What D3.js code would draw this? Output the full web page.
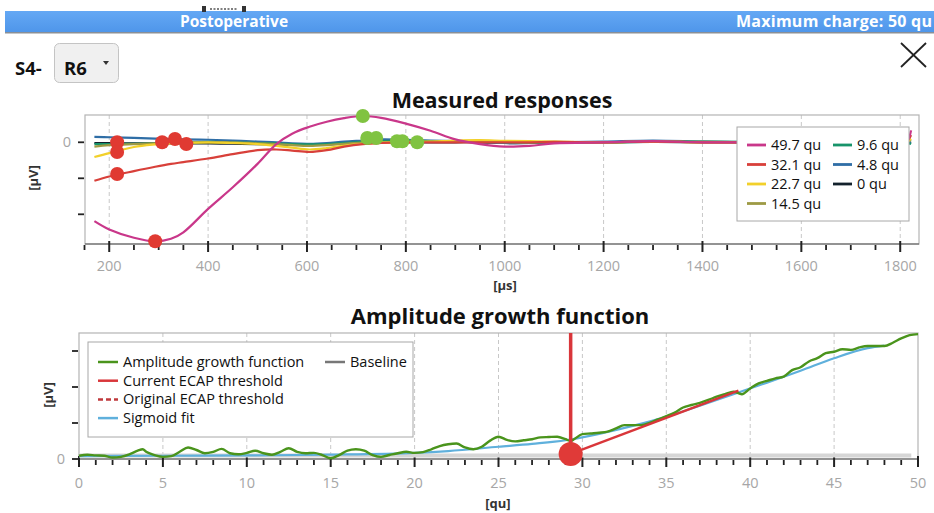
<!DOCTYPE html>
<html><head><meta charset="utf-8">
<script src="https://cdn.jsdelivr.net/npm/d3@7"></script>
<style>body{margin:0;background:#fff}svg{display:block;font-family:"Open Sans",sans-serif}</style>
</head><body><svg id="c" width="934" height="513"></svg>
<script>
// ---------- data: measured responses ----------
const respLabels = ["49.7 qu","32.1 qu","22.7 qu","14.5 qu","9.6 qu","4.8 qu","0 qu"];
const respColors = ["#c9378a","#d8403a","#f2d02a","#9d9a45","#17946a","#2f6ea6","#13212c"];
const respX = [170,200,250,293,325,350,400,450,500,538,570,605,640,675,713,750,800,850,900,950,1000,1050,1100,1200,1300,1400,1500,1600,1700,1810,1822];
const resp497 = [-2.19,-2.42,-2.65,-2.75,-2.68,-2.5,-1.85,-1.25,-0.6,-0.05,0.24,0.43,0.57,0.67,0.73,0.68,0.52,0.32,0.08,-0.05,-0.12,-0.1,-0.03,0,0.03,0,0,0,0,0,0.33];
const resp321 = [-1.07,-0.95,-0.8,-0.68,-0.6,-0.55,-0.45,-0.33,-0.22,-0.2,-0.23,-0.27,-0.22,-0.12,-0.05,-0.02,0,0,0,0,0,0,0.01,0,0.02,0,0,0,0,0,0.2];
const resp227 = [-0.41,-0.3,-0.13,-0.06,-0.03,-0.02,0,-0.02,-0.05,-0.1,-0.15,-0.2,-0.16,-0.09,-0.04,-0.01,0,0.02,0.05,0.06,0.04,0.03,0.02,0,0.02,0,0,0,0,0,0.1];
const resp145 = [-0.12,-0.08,-0.05,-0.03,-0.02,-0.01,0,0,-0.03,-0.05,-0.08,-0.1,-0.08,-0.04,-0.01,0,0.02,0.02,0.02,0.02,0.01,0,0.01,0,0.02,0.01,0,0,0,0,0.06];
const resp96  = [-0.05,-0.05,-0.04,-0.03,-0.02,-0.01,0.01,0,-0.02,-0.03,-0.05,-0.06,-0.05,-0.02,0.01,0.03,0.04,0.03,0.02,0.01,0,-0.01,0,-0.01,0.02,0.02,0.01,0,0,0,-0.05];
const resp48  = [0.15,0.14,0.12,0.1,0.09,0.08,0.07,0.05,0.02,0,-0.03,-0.04,-0.02,0.02,0.05,0.08,0.07,0.05,0.03,0.01,-0.02,-0.02,0,0.02,0.05,0.02,0,0,0,0,0];
const resp0   = [-0.02,-0.02,-0.03,-0.03,-0.03,-0.03,-0.03,-0.04,-0.05,-0.06,-0.07,-0.07,-0.06,-0.04,-0.02,0,0,0,0,0,-0.02,-0.02,-0.01,0,0.01,0,0,0,0,0,-0.02];
const respSeries = [resp497,resp321,resp227,resp145,resp96,resp48,resp0];
const negPeakX = [216,216,216,293,307,333,356];
const negPeakY = [0.0,-0.27,-0.88,-2.75,0.0,0.09,-0.05];
const posPeakX = [713,722,740,782,793,823];
const posPeakY = [0.73,0.12,0.12,0.03,0.03,0.0];
const respXTicks = [200,400,600,800,1000,1200,1400,1600,1800];
const respYTicks = [0,-1,-2];

// ---------- data: amplitude growth function ----------
const agfX = [0,0.5,1,1.5,2,2.5,3,3.5,3.8,4,4.5,5,5.5,6,6.5,7,7.5,8,8.5,9,9.5,10,10.5,11,11.5,12,12.5,13,13.5,14,14.5,15,15.5,16,16.5,17,17.5,18,18.5,19,19.5,20,20.5,21,21.5,22,22.5,23,23.5,24,24.5,25,25.5,26,26.5,27,27.5,28,28.5,29,29.3,29.5,30,30.5,31,31.5,32,32.5,33,33.5,34,34.5,35,35.5,36,36.5,37,37.5,38,38.5,39,39.5,40,40.5,41,41.5,42,42.5,43,43.5,44,44.5,45,45.5,46,46.5,47,47.5,48,48.5,49,49.5,50];
const agfY = [0.09,0.12,0.1,0.09,0.04,0.06,0.13,0.23,0.27,0.2,0.11,0.06,0.08,0.2,0.32,0.25,0.16,0.2,0.28,0.16,0.13,0.17,0.23,0.16,0.12,0.2,0.3,0.2,0.16,0.17,0.11,0.02,0.11,0.23,0.27,0.23,0.11,0.06,0.11,0.16,0.2,0.17,0.19,0.27,0.36,0.41,0.43,0.32,0.27,0.34,0.51,0.62,0.53,0.49,0.52,0.55,0.6,0.61,0.62,0.55,0.5,0.55,0.69,0.71,0.73,0.76,0.85,0.94,0.94,0.94,1.0,1.1,1.19,1.29,1.43,1.5,1.56,1.64,1.73,1.8,1.87,1.8,1.96,2.1,2.17,2.24,2.29,2.47,2.55,2.71,2.8,2.94,2.98,3.05,3.03,3.1,3.14,3.14,3.14,3.23,3.35,3.44,3.47];
const sigX = [0,5,10,15,20,22,25,27,29,31,33,35,37,39,41,43,45,47,48];
const sigY = [0.08,0.09,0.1,0.12,0.17,0.22,0.34,0.42,0.52,0.7,0.92,1.17,1.48,1.8,2.12,2.45,2.8,3.08,3.15];
const thresholdQ = 29.3, thresholdV = 0.14;
const slopeEndQ = 39.3, slopeEndV = 1.9;
const agfXTicks = [0,5,10,15,20,25,30,35,40,45,50];
const agfYTicks = [0,1,2,3];
const agfLegend = ["Amplitude growth function","Current ECAP threshold","Original ECAP threshold","Sigmoid fit","Baseline"];

const svg = d3.select("#c");

// ---------- header ----------
const grad = svg.append("defs").append("linearGradient").attr("id","hb").attr("x1",0).attr("x2",0).attr("y1",0).attr("y2",1);
grad.append("stop").attr("offset",0).attr("stop-color","#64a8f4");
grad.append("stop").attr("offset",1).attr("stop-color","#4f96ea");
svg.append("rect").attr("x",5).attr("y",11).attr("width",929).attr("height",21).attr("fill","url(#hb)");
svg.append("rect").attr("x",5).attr("y",32).attr("width",929).attr("height",1.5).attr("fill","#8a8f96");
svg.append("rect").attr("x",202).attr("y",6).attr("width",4).attr("height",6).attr("fill","#333");
svg.append("rect").attr("x",242).attr("y",6).attr("width",4).attr("height",6).attr("fill","#333");
svg.append("line").attr("x1",210).attr("x2",238).attr("y1",9).attr("y2",9).attr("stroke","#555").attr("stroke-width",1.5).attr("stroke-dasharray","2,1.5");
svg.append("text").attr("x",234).attr("y",27).attr("text-anchor","middle").attr("fill","#fff").attr("font-weight","bold").attr("font-size",15.5).text("Postoperative");
svg.append("text").attr("x",932).attr("y",27).attr("text-anchor","end").attr("fill","#fff").attr("font-weight","bold").attr("font-size",16).attr("textLength",196).text("Maximum charge: 50 qu");

svg.append("text").attr("x",15).attr("y",75).attr("font-weight","bold").attr("font-size",18.5).attr("fill","#111").text("S4-");
svg.append("rect").attr("x",54.5).attr("y",43.5).attr("width",64).attr("height",39).attr("rx",5).attr("fill","#f0f0f0").attr("stroke","#c4c4c4");
svg.append("text").attr("x",64).attr("y",75).attr("font-weight","bold").attr("font-size",18.5).attr("fill","#111").text("R6");
svg.append("path").attr("d","M103,61 L109,61 L106,65 Z").attr("fill","#333");
svg.append("line").attr("x1",901).attr("y1",43).attr("x2",926).attr("y2",67).attr("stroke","#222").attr("stroke-width",1.8);
svg.append("line").attr("x1",926).attr("y1",43).attr("x2",901).attr("y2",67).attr("stroke","#222").attr("stroke-width",1.8);

// ---------- helper to draw axes frame ----------
function frame(g, x, y, L, R, T, B, xMinor, xMajor, yTicks, labOff) {
  g.selectAll(".vg").data(xMajor.filter(v => x(v) > L + 2 && x(v) < R - 2)).join("line")
    .attr("x1", d => x(d)).attr("x2", d => x(d)).attr("y1", T).attr("y2", B)
    .attr("stroke", "#c8c8c8").attr("stroke-dasharray", "4,3");
  g.append("rect").attr("x", L).attr("y", T).attr("width", R - L).attr("height", B - T)
    .attr("fill", "none").attr("stroke", "#b4b4b4").attr("stroke-width", 1.2);
  g.append("line").attr("x1", L).attr("x2", R).attr("y1", B).attr("y2", B).attr("stroke", "#555");
  g.selectAll(".mt").data(xMinor).join("line")
    .attr("x1", d => x(d)).attr("x2", d => x(d)).attr("y1", B + 1).attr("y2", B + 6)
    .attr("stroke", "#222").attr("stroke-width", 1.8);
  g.selectAll(".Mt").data(xMajor).join("line")
    .attr("x1", d => x(d)).attr("x2", d => x(d)).attr("y1", B - 3).attr("y2", B + 8)
    .attr("stroke", "#222").attr("stroke-width", 2);
  g.selectAll(".xl").data(xMajor).join("text")
    .attr("x", d => x(d)).attr("y", B + labOff).attr("text-anchor", "middle")
    .attr("font-size", 14.5).attr("fill", "#a6a6a6").text(d => d);
  g.selectAll(".yt").data(yTicks).join("line")
    .attr("x1", L - 7).attr("x2", L - 1).attr("y1", d => y(d)).attr("y2", d => y(d))
    .attr("stroke", "#222").attr("stroke-width", 1.8);
  g.append("text").attr("x", L - 14).attr("y", y(0) + 5).attr("text-anchor", "end")
    .attr("font-size", 14.5).attr("fill", "#a6a6a6").text("0");
}

// ---------- top chart ----------
{
  const L = 85, R = 919, T = 115, B = 244;
  const x = d3.scaleLinear().domain([151, 1838]).range([L, R]);
  const y = d3.scaleLinear().domain([-2.825, 0.758]).range([B, T]);
  const g = svg.append("g");
  const minor = d3.range(150, 1840, 50).filter(v => v % 200 !== 0);
  frame(g, x, y, L, R, T, B, minor, respXTicks, respYTicks, 27);
  svg.append("text").attr("x", 502).attr("y", 108).attr("text-anchor", "middle")
    .attr("font-weight", "bold").attr("font-size", 21.5).attr("fill", "#111").text("Measured responses");
  svg.append("text").attr("x", 505).attr("y", 290).attr("text-anchor", "middle")
    .attr("font-weight", "bold").attr("font-size", 13).attr("fill", "#333").text("[µs]");
  svg.append("text").attr("transform", "translate(38,178) rotate(-90)").attr("text-anchor", "middle")
    .attr("font-weight", "bold").attr("font-size", 13).attr("fill", "#333").text("[µV]");
  const line = d3.line().x((d, i) => x(respX[i])).y(d => y(d)).curve(d3.curveCatmullRom.alpha(0.5));
  const order = [6, 5, 4, 3, 2, 1, 0];
  g.selectAll(".rl").data(order).join("path")
    .attr("d", i => line(respSeries[i])).attr("fill", "none")
    .attr("stroke", i => respColors[i]).attr("stroke-width", 2.2);
  g.selectAll(".np").data(negPeakX).join("circle")
    .attr("cx", d => x(d)).attr("cy", (d, i) => y(negPeakY[i])).attr("r", 7).attr("fill", "#e03a32");
  g.selectAll(".pp").data(posPeakX).join("circle")
    .attr("cx", d => x(d)).attr("cy", (d, i) => y(posPeakY[i])).attr("r", 7).attr("fill", "#80c341");
  const lg = g.append("g");
  lg.append("rect").attr("x", 737).attr("y", 127).attr("width", 172).attr("height", 94)
    .attr("fill", "#fff").attr("stroke", "#a8a8a8");
  respLabels.forEach((t, i) => {
    const col = i < 4 ? 0 : 1, row = i < 4 ? i : i - 4;
    const lx = 747 + col * 86, ly = 145 + row * 19.5;
    lg.append("line").attr("x1", lx).attr("x2", lx + 19).attr("y1", ly).attr("y2", ly)
      .attr("stroke", respColors[i]).attr("stroke-width", 2.8);
    lg.append("text").attr("x", lx + 24).attr("y", ly + 5).attr("font-size", 14.5).attr("fill", "#111").text(t);
  });
}

// ---------- bottom chart ----------
{
  const L = 79, R = 918, T = 333, B = 459;
  const x = d3.scaleLinear().domain([0, 50]).range([L, R]);
  const y = d3.scaleLinear().domain([0, 3.5]).range([B, T]);
  const g = svg.append("g");
  const minor = d3.range(0, 51, 1).filter(v => v % 5 !== 0);
  frame(g, x, y, L, R, T, B, minor, agfXTicks, agfYTicks, 29);
  svg.append("text").attr("x", 500).attr("y", 324).attr("text-anchor", "middle")
    .attr("font-weight", "bold").attr("font-size", 22).attr("fill", "#111").text("Amplitude growth function");
  svg.append("text").attr("x", 498).attr("y", 508).attr("text-anchor", "middle")
    .attr("font-weight", "bold").attr("font-size", 13).attr("fill", "#333").text("[qu]");
  svg.append("text").attr("transform", "translate(53,395) rotate(-90)").attr("text-anchor", "middle")
    .attr("font-weight", "bold").attr("font-size", 13).attr("fill", "#333").text("[µV]");
  g.append("line").attr("x1", x(0)).attr("x2", x(49.6)).attr("y1", y(0.1)).attr("y2", y(0.1))
    .attr("stroke", "#d6d6d6").attr("stroke-width", 4);
  const sig = d3.line().x((d, i) => x(sigX[i])).y(d => y(d)).curve(d3.curveMonotoneX);
  g.append("path").attr("d", sig(sigY)).attr("fill", "none").attr("stroke", "#5fb0dc").attr("stroke-width", 2.2);
  const agf = d3.line().x((d, i) => x(agfX[i])).y(d => y(d)).curve(d3.curveMonotoneX);
  g.append("path").attr("d", agf(agfY)).attr("fill", "none").attr("stroke", "#4a941c").attr("stroke-width", 2.4);
  g.append("line").attr("x1", x(thresholdQ)).attr("x2", x(slopeEndQ)).attr("y1", y(thresholdV)).attr("y2", y(slopeEndV))
    .attr("stroke", "#d9363a").attr("stroke-width", 2.4);
  g.append("line").attr("x1", x(thresholdQ)).attr("x2", x(thresholdQ)).attr("y1", T).attr("y2", y(thresholdV))
    .attr("stroke", "#d9363a").attr("stroke-width", 3.5);
  g.append("circle").attr("cx", x(thresholdQ)).attr("cy", y(thresholdV)).attr("r", 12).attr("fill", "#e03a38");
  const lg = g.append("g");
  lg.append("rect").attr("x", 88).attr("y", 342).attr("width", 325).attr("height", 95)
    .attr("fill", "#fff").attr("stroke", "#a8a8a8");
  const legC = ["#4a941c", "#d9363a", "#c0393c", "#5fb0dc", "#777"];
  const legD = [null, null, "5,3", null, null];
  agfLegend.forEach((t, i) => {
    const lx = i < 4 ? 98 : 325, ly = i < 4 ? 362 + i * 18.7 : 362;
    lg.append("line").attr("x1", lx).attr("x2", lx + 20).attr("y1", ly).attr("y2", ly)
      .attr("stroke", legC[i]).attr("stroke-width", 2.5).attr("stroke-dasharray", legD[i]);
    lg.append("text").attr("x", lx + 25).attr("y", ly + 5).attr("font-size", 14.5).attr("fill", "#111").text(t);
  });
}
</script></body></html>
